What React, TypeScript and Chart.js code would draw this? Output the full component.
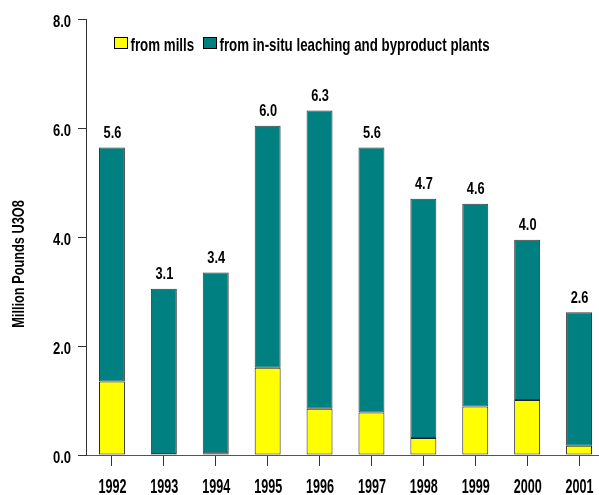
import React, { useEffect, useRef } from "react";
import { Chart, registerables } from "chart.js";

Chart.register(...registerables);

const years = ["1992", "1993", "1994", "1995", "1996", "1997", "1998", "1999", "2000", "2001"];
const fromMills = [1.35, 0.02, 0.03, 1.6, 0.85, 0.78, 0.31, 0.89, 1.01, 0.17];
const fromInSitu = [4.29, 3.03, 3.32, 4.44, 5.47, 4.86, 4.39, 3.72, 2.94, 2.45];
const totalLabels = ["5.6", "3.1", "3.4", "6.0", "6.3", "5.6", "4.7", "4.6", "4.0", "2.6"];
const yTicks = [0, 2, 4, 6, 8];
const yTickLabels = ["0.0", "2.0", "4.0", "6.0", "8.0"];
const legendLabels = ["from mills", "from in-situ leaching and byproduct plants"];
const yTitle = "Million Pounds U3O8";

const FONT = "'Liberation Sans', Arial, sans-serif";
const YELLOW = "#FFFF00";
const TEAL = "#008080";

function txt(ctx: any, s: string, x: number, y: number, size: number, sx: number, align: string, rot = 0) {
  ctx.save();
  ctx.translate(x, y);
  if (rot) ctx.rotate(rot);
  ctx.scale(sx, 1);
  ctx.font = `bold ${size}px ${FONT}`;
  ctx.textAlign = align;
  ctx.textBaseline = "alphabetic";
  ctx.fillStyle = "#000";
  ctx.fillText(s, 0, 0);
  ctx.restore();
}

const overlayPlugin = {
  id: "overlay",
  afterDraw(chart: any) {
    const ctx = chart.ctx;
    const ys = chart.scales.y;
    const xs = chart.scales.x;
    // y tick labels
    yTicks.forEach((v, i) => {
      txt(ctx, yTickLabels[i], 71, ys.getPixelForValue(v) + 8.4, 16.3, 0.8, "right");
    });
    // x tick labels
    years.forEach((yr, i) => {
      txt(ctx, yr, xs.getPixelForValue(i) + 0.5, 492.5, 20, 0.63, "center");
    });
    // stack totals
    years.forEach((_, i) => {
      const total = fromMills[i] + fromInSitu[i];
      txt(ctx, totalLabels[i], xs.getPixelForValue(i) + 0.5, ys.getPixelForValue(total) - 9.5, 16, 0.8, "center");
    });
    // legend
    const colors = [YELLOW, TEAL];
    const lx = [114, 203];
    legendLabels.forEach((lab, i) => {
      ctx.save();
      ctx.fillStyle = colors[i];
      ctx.fillRect(lx[i] + 0.5, 37.5, 13, 11);
      ctx.strokeStyle = "#000";
      ctx.lineWidth = 1;
      ctx.strokeRect(lx[i] + 0.5, 37.5, 13, 11);
      ctx.restore();
      txt(ctx, lab, lx[i] + 16.5, 50.5, 18.5, 0.72, "left");
    });
    // y axis title
    txt(ctx, yTitle, 24, 264, 16.8, 0.76, "center", -Math.PI / 2);
  },
};

export default function App() {
  const ref = useRef<HTMLCanvasElement>(null);
  useEffect(() => {
    if (!ref.current) return;
    const chart = new Chart(ref.current, {
      type: "bar",
      data: {
        labels: years,
        datasets: [
          {
            label: legendLabels[0],
            data: fromMills,
            backgroundColor: YELLOW,
            borderColor: "#222",
            borderWidth: 1,
            borderSkipped: false,
            barPercentage: 0.5,
            categoryPercentage: 1,
          },
          {
            label: legendLabels[1],
            data: fromInSitu,
            backgroundColor: TEAL,
            borderColor: "#3a3a3a",
            borderWidth: 1,
            borderSkipped: false,
            barPercentage: 0.5,
            categoryPercentage: 1,
          },
        ],
      },
      options: {
        responsive: false,
        animation: false,
        layout: { padding: { top: 19, right: 5, left: 0, bottom: 0 } },
        plugins: {
          legend: { display: false },
          tooltip: { enabled: false },
        },
        scales: {
          x: {
            stacked: true,
            offset: true,
            grid: {
              offset: false,
              drawOnChartArea: false,
              drawTicks: true,
              tickLength: 11,
              color: "#333",
            },
            border: { display: true, color: "#555", width: 1 },
            ticks: { display: false, autoSkip: false },
            afterFit(scale: any) {
              scale.height = 40;
            },
          },
          y: {
            stacked: true,
            min: 0,
            max: 8,
            afterBuildTicks(scale: any) {
              scale.ticks = yTicks.map((v) => ({ value: v }));
            },
            grid: {
              drawOnChartArea: false,
              drawTicks: true,
              tickLength: 8,
              color: "#333",
            },
            border: { display: true, color: "#333", width: 1 },
            ticks: { display: false },
            afterFit(scale: any) {
              scale.width = 86;
            },
          },
        },
      },
      plugins: [overlayPlugin],
    });
    return () => chart.destroy();
  }, []);
  return (
    <div style={{ position: "absolute", left: 0, top: 0, width: 599, height: 495, overflow: "hidden", background: "#fff" }}>
      <canvas ref={ref} width={610} height={495} style={{ display: "block" }} />
    </div>
  );
}
